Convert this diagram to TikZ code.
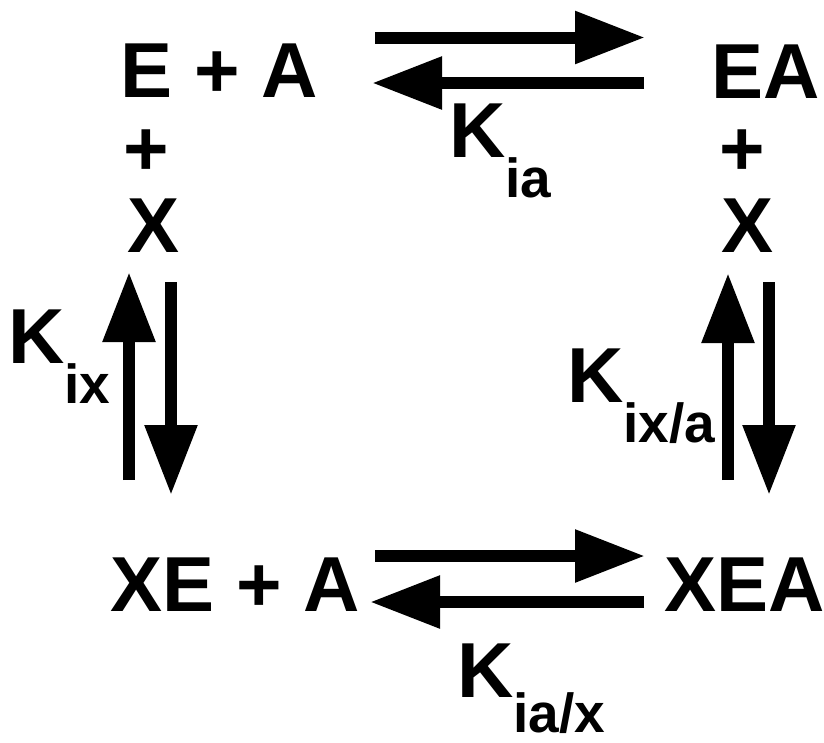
\documentclass[tikz,border=0pt]{standalone}
\usepackage{fontspec}
\setmainfont{Liberation Sans}
\usetikzlibrary{arrows.meta}
\newcommand{\subfs}{\fontsize{55}{60}\selectfont}
\newcommand{\Ksub}[2][40pt]{K\raisebox{-#1}{\subfs #2}}
\begin{document}
\begin{tikzpicture}[x=1pt,y=-1pt,
  species/.style={font=\fontsize{78}{90}\selectfont\bfseries, inner sep=0pt, anchor=base},
  konst/.style={font=\fontsize{78}{90}\selectfont\bfseries, inner sep=0pt, anchor=base west},
  rxn/.style={line width=12pt, -{Triangle[length=70pt,width=50pt]}}]
\useasboundingbox (0,0) rectangle (824,742);
% species
\node[species] (ea0) at (219,97) {E + A};
\node[species] (ea1) at (766,98) {EA};
\node[species] (plusl) at (146.5,175) {+};
\node[species] (xl) at (153.5,252) {X};
\node[species] (plusr) at (742,175) {+};
\node[species] (xr) at (748,252) {X};
\node[species] (xea0) at (235,611) {XE + A};
\node[species] (xea1) at (745,611) {XEA};
% constants
\node[konst] (kia) at (449,157) {\Ksub{ia}};
\node[konst] (kix) at (8,363) {\Ksub{ix}};
\node[konst] (kixa) at (567,402) {\Ksub{ix/a}};
\node[konst] (kiax) at (457,697) {\Ksub[35pt]{ia/x}};
% arrow end points
\coordinate (tfs) at (375,37.5);  \coordinate (tfe) at (645,37.5);
\coordinate (trs) at (644,83);    \coordinate (tre) at (372,83);
\coordinate (bfs) at (375,556);   \coordinate (bfe) at (645,556);
\coordinate (brs) at (644,602);   \coordinate (bre) at (370,602);
\coordinate (lus) at (129,480);   \coordinate (lue) at (129,272);
\coordinate (lds) at (171,282);   \coordinate (lde) at (171,495);
\coordinate (rus) at (728,480);   \coordinate (rue) at (728,273);
\coordinate (rds) at (769,282);   \coordinate (rde) at (769,495);
% arrows
\draw[rxn] (tfs) -- (tfe);
\draw[rxn] (trs) -- (tre);
\draw[rxn] (bfs) -- (bfe);
\draw[rxn] (brs) -- (bre);
\draw[rxn] (lus) -- (lue);
\draw[rxn] (lds) -- (lde);
\draw[rxn] (rus) -- (rue);
\draw[rxn] (rds) -- (rde);
\end{tikzpicture}
\end{document}
